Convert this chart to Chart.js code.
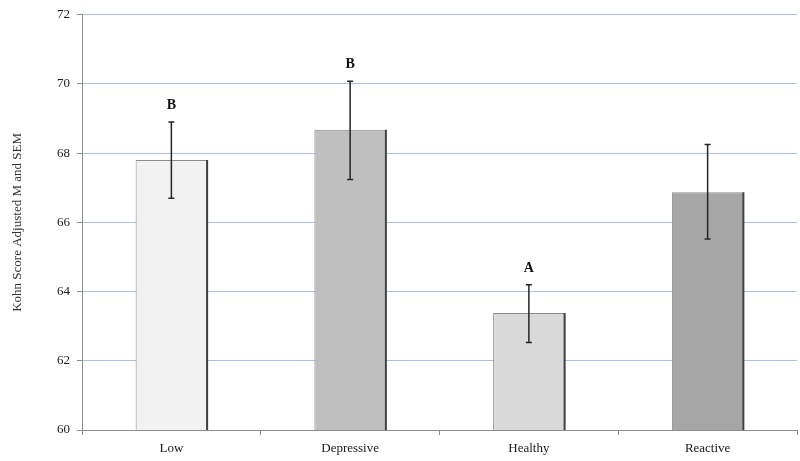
<!DOCTYPE html>
<html>
<head>
<meta charset="utf-8">
<script src="https://cdn.jsdelivr.net/npm/chart.js@4.4.0/dist/chart.umd.min.js"></script>
<style>
  html, body { margin: 0; padding: 0; background: #fff; }
  #wrap { width: 800px; height: 461px; }
</style>
</head>
<body>
<div id="wrap"><canvas id="kohn"></canvas></div>
<script>
const groups = ['Low', 'Depressive', 'Healthy', 'Reactive'];
const means = [67.8, 68.68, 63.38, 66.87];
const semUpper = [68.9, 70.08, 64.2, 68.25];
const semLower = [66.7, 67.24, 62.53, 65.52];
const letters = ['B', 'B', 'A', ''];
const barColors = ['#f2f2f2', '#bfbfbf', '#d9d9d9', '#a6a6a6'];
const yTicks = [60, 62, 64, 66, 68, 70, 72];

const serif = '"Liberation Serif", "Times New Roman", serif';

// error bars, letters and the darker right edge of each bar
const extras = {
    id: 'extras',
    afterDatasetsDraw(chart) {
        const ctx = chart.ctx;
        const y = chart.scales.y;
        const floor = chart.chartArea.bottom;
        const bars = chart.getDatasetMeta(0).data;
        ctx.save();
        bars.forEach((bar, i) => {
            const half = bar.width / 2;
            // shadow edge
            ctx.strokeStyle = '#404040';
            ctx.lineWidth = 2;
            ctx.beginPath();
            ctx.moveTo(bar.x + half, bar.y);
            ctx.lineTo(bar.x + half, Math.min(bar.base, floor));
            ctx.stroke();

            const top = y.getPixelForValue(semUpper[i]);
            const bot = y.getPixelForValue(semLower[i]);
            ctx.strokeStyle = '#262626';
            ctx.lineWidth = 1.5;
            ctx.beginPath();
            ctx.moveTo(bar.x, top);
            ctx.lineTo(bar.x, bot);
            ctx.moveTo(bar.x - 3, top);
            ctx.lineTo(bar.x + 3, top);
            ctx.moveTo(bar.x - 3, bot);
            ctx.lineTo(bar.x + 3, bot);
            ctx.stroke();

            if (letters[i]) {
                ctx.fillStyle = '#111';
                ctx.font = 'bold 14px ' + serif;
                ctx.textAlign = 'center';
                ctx.textBaseline = 'alphabetic';
                ctx.fillText(letters[i], bar.x, top - 13);
            }
        });
        ctx.restore();
    }
};

new Chart(document.getElementById('kohn'), {
    type: 'bar',
    data: {
        labels: groups,
        datasets: [{
            data: means,
            backgroundColor: barColors,
            borderColor: '#8c8c8c',
            borderWidth: 1,
            borderSkipped: 'bottom',
            categoryPercentage: 1,
            barPercentage: 0.4
        }]
    },
    options: {
        responsive: true,
        maintainAspectRatio: false,
        animation: false,
        layout: { padding: { top: 12, right: 3, left: 0, bottom: 0 } },
        plugins: {
            legend: { display: false },
            tooltip: { enabled: false }
        },
        scales: {
            x: {
                offset: true,
                grid: {
                    offset: true,
                    drawOnChartArea: false,
                    tickLength: 5,
                    tickColor: '#8c8c8c'
                },
                border: { color: '#8c8c8c' },
                ticks: {
                    padding: 6,
                    color: '#1a1a1a',
                    font: { family: serif, size: 13 }
                },
                afterFit: s => { s.height = 31; }
            },
            y: {
                min: 60,
                max: 72,
                afterBuildTicks: s => { s.ticks = yTicks.map(v => ({ value: v })); },
                grid: {
                    color: '#a9c2e4',
                    tickColor: '#8c8c8c',
                    tickLength: 5
                },
                border: { color: '#8c8c8c' },
                ticks: {
                    padding: 7,
                    color: '#1a1a1a',
                    font: { family: serif, size: 13 }
                },
                title: {
                    display: true,
                    text: 'Kohn Score Adjusted M and SEM',
                    color: '#333',
                    padding: { top: 10, bottom: 0 },
                    font: { family: serif, size: 13 }
                },
                afterFit: s => { s.width = 82; }
            }
        }
    },
    plugins: [extras]
});
</script>
</body>
</html>
